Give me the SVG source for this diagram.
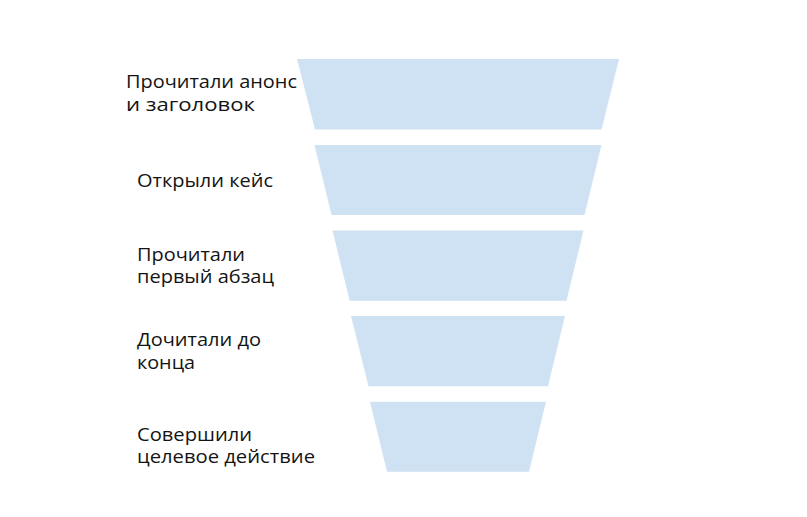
<svg xmlns="http://www.w3.org/2000/svg" width="807" height="517" viewBox="0 0 807 517">
  <style>
    .bar { fill: #cfe2f3; }
    .lbl { font-family: "Open Sans", "Noto Sans", "Liberation Sans", sans-serif; font-size: 17.5px; fill: #141414; }
  </style>
  <rect width="807" height="517" fill="#ffffff"/>
  <g id="stage1">
    <polygon class="bar" points="297,59 619,59 601.5,129.5 315,129.5"/>
    <text class="lbl" x="126" y="88" textLength="171" lengthAdjust="spacingAndGlyphs">Прочитали анонс</text>
    <text class="lbl" x="126" y="110.7" textLength="129" lengthAdjust="spacingAndGlyphs">и заголовок</text>
  </g>
  <g id="stage2">
    <polygon class="bar" points="314.5,145 601.5,145 584.5,215 331.5,215"/>
    <text class="lbl" x="137" y="186.7" textLength="136" lengthAdjust="spacingAndGlyphs">Открыли кейс</text>
  </g>
  <g id="stage3">
    <polygon class="bar" points="332.5,230.5 583.5,230.5 566.5,300.7 349.7,300.7"/>
    <text class="lbl" x="137" y="260.5" textLength="108" lengthAdjust="spacingAndGlyphs">Прочитали</text>
    <text class="lbl" x="137" y="283.2" textLength="137" lengthAdjust="spacingAndGlyphs">первый абзац</text>
  </g>
  <g id="stage4">
    <polygon class="bar" points="351,316 565,316 548,386.3 368.5,386.3"/>
    <text class="lbl" x="137" y="346" textLength="124" lengthAdjust="spacingAndGlyphs">Дочитали до</text>
    <text class="lbl" x="137" y="368.5" textLength="58" lengthAdjust="spacingAndGlyphs">конца</text>
  </g>
  <g id="stage5">
    <polygon class="bar" points="370,401.7 546,401.7 529,471.7 387,471.7"/>
    <text class="lbl" x="137" y="440.5" textLength="115" lengthAdjust="spacingAndGlyphs">Совершили</text>
    <text class="lbl" x="137" y="463.2" textLength="178" lengthAdjust="spacingAndGlyphs">целевое действие</text>
  </g>
  <g id="connectors"></g>
</svg>
